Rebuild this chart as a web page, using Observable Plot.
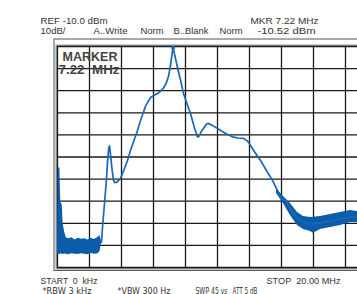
<!DOCTYPE html>
<html>
<head>
<meta charset="utf-8">
<script src="https://cdn.jsdelivr.net/npm/d3@7"></script>
<script src="https://cdn.jsdelivr.net/npm/@observablehq/plot@0.6"></script>
<style>
  html, body { margin: 0; padding: 0; background: #fff; overflow: hidden; width: 357px; height: 294px; }
  #chart { width: 400px; }
  #chart svg { display: block; max-width: none !important; width: 400px !important; height: 294px !important; }
</style>
</head>
<body>
<div id="chart"></div>
<script>
// ---- grid ticks (10 dB/div, 2 MHz/div) ----
const freqTicks = [0, 2, 4, 6, 8, 10, 12, 14, 16, 18, 20];
const levelTicks = [-110, -100, -90, -80, -70, -60, -50, -40, -30, -20, -10];

// ---- main trace (MHz, dBm) ----
const traceFreq = [2.75, 2.81, 2.95, 3.06, 3.13, 3.2, 3.25, 3.3, 3.4, 3.5, 3.56, 3.7, 3.94, 4.2, 4.375, 4.56, 5.0, 5.19, 5.5, 5.81, 6.1, 6.31, 6.5, 6.625, 6.8, 6.94, 7.05, 7.15, 7.22, 7.3, 7.5, 7.7, 7.875, 8.1, 8.31, 8.55, 8.75, 8.85, 9.0, 9.125, 9.3, 9.44, 9.7, 10.0, 10.3, 10.625, 11.0, 11.3, 11.625, 11.85, 12.0, 12.3, 12.69, 13.05, 13.44, 13.7, 13.94, 14.25, 14.56, 15.06, 15.625, 16.0, 16.5, 17.06, 17.7, 18.3, 18.75, 19.4, 20];
const traceLevel = [-98.5, -92, -80, -70, -62, -56, -55, -58, -65, -70.5, -71.5, -71.5, -69.7, -65, -61.6, -57.1, -48.0, -43.5, -37, -33.1, -31.8, -31.0, -29.8, -28.8, -26.5, -23.5, -19, -14, -10.52, -13, -19.5, -25.5, -31.3, -36, -40.3, -46.5, -51.0, -50.5, -48.3, -47.1, -45.2, -44.8, -45.8, -47.1, -48.5, -49.8, -51.0, -51.4, -51.6, -52.6, -54, -57.5, -61.6, -66, -70.6, -74.5, -78.3, -79.5, -83.8, -88.0, -90.3, -90.0, -89.7, -89.0, -88.0, -87.2, -87.1, -86.3, -85.8];

// ---- noise envelope near 0 Hz ----
const lowNoiseFreq = [0, 0.05, 0.15, 0.2, 0.3, 0.35, 0.45, 0.55, 0.7, 0.9, 1.1, 1.3, 1.5, 1.7, 1.9, 2.1, 2.3, 2.5, 2.65, 2.75];
const lowNoiseHigh = [-98, -65, -65, -80, -82, -90, -94, -96.5, -97, -96.5, -97.5, -96.8, -97.2, -97, -97.5, -96.8, -97.3, -96.5, -95.5, -98];
const lowNoiseLow = [-104, -104, -104.2, -103.8, -104, -104.1, -103.9, -104, -104.2, -103.8, -104, -104.1, -103.8, -104, -104.2, -103.5, -104, -103.9, -103, -99];

// ---- noise envelope of the upper frequency tail ----
const highNoiseFreq = [13.69, 14.125, 14.56, 15.0, 15.375, 15.81, 16.0, 16.44, 17.06, 17.69, 18.31, 18.75, 19.4, 20];
const highNoiseHigh = [-74.3, -77.9, -81.0, -85.1, -86.9, -87.4, -87.3, -86.9, -86.0, -85.1, -84.2, -84.7, -84.0, -83.5];
const highNoiseLow = [-76.5, -81.0, -86.5, -91.0, -92.8, -93.7, -94.5, -92.8, -91.9, -91.0, -89.6, -89.6, -89.0, -88.5];

// ---- marker ----
const markerFreq = [7.22];
const markerLevel = [-10.52];

// ---- annotation texts ----
const headerTop = ["REF -10.0 dBm", "MKR 7.22 MHz"];
const headerSecond = ["10dB/", "A..Write", "Norm", "B..Blank", "Norm", "-10.52 dBm"];
const footerTop = ["START  0  kHz", "STOP  20.00 MHz"];
const footerSecond = ["*RBW 3 kHz", "*VBW 300 Hz", "SWP 45 vs", "ATT 5 dB"];
const markerLabel = ["MARKER", "7.22  MHz"];

const trace = traceFreq.map((f, i) => ({f, db: traceLevel[i]}));
const lowNoise = lowNoiseFreq.map((f, i) => ({f, lo: lowNoiseLow[i], hi: lowNoiseHigh[i]}));
const highNoise = highNoiseFreq.map((f, i) => ({f, lo: highNoiseLow[i], hi: highNoiseHigh[i]}));
const marker = markerFreq.map((f, i) => ({f, db: markerLevel[i]}));

const ML = 57, MT = 46;
const font = "'Liberation Sans', Arial, sans-serif";
const narrow = "'Liberation Sans Narrow', 'DejaVu Sans Condensed', 'Liberation Sans', Arial, sans-serif";
const fitWidths = new Map();
function label(t, x, baseline, w, extra = {}) {
  fitWidths.set(t, w);
  return Plot.text([t], {
    text: d => d, frameAnchor: "top-left", textAnchor: "start", lineAnchor: "bottom",
    dx: x - ML, dy: baseline - MT, fill: "#333", fontSize: 9, ...extra
  });
}

const blue = "#1a68b6";
const chart = Plot.plot({
  width: 400, height: 294,
  marginLeft: ML, marginRight: 23, marginTop: MT, marginBottom: 27,
  x: {domain: [0, 20], axis: null},
  y: {domain: [-110, -10], axis: null},
  style: {background: "#fff", fontFamily: font, overflow: "visible", maxWidth: "none"},
  marks: [
    Plot.frame({stroke: "#555", strokeWidth: 1, insetLeft: -3.5, insetTop: -7.5, insetBottom: -3, insetRight: -4}),
    Plot.frame({stroke: "#999", strokeWidth: 2, insetTop: -1, insetBottom: -1, insetLeft: -1, insetRight: -1}),
    Plot.ruleX(freqTicks, {stroke: "#1a1a1a", strokeWidth: 1.3}),
    Plot.ruleY(levelTicks, {stroke: "#1a1a1a", strokeWidth: 1.3}),
    label(markerLabel[0], 62, 60, 55, {fontSize: 12, fontWeight: "bold", fill: "#444"}),
    label(markerLabel[1], 58, 73, 61, {fontSize: 12, fontWeight: "bold", fill: "#444"}),
    Plot.areaY(lowNoise, {x: "f", y1: "lo", y2: "hi", fill: "#0b5dac"}),
    Plot.areaY(highNoise, {x: "f", y1: "lo", y2: "hi", fill: "#0b5dac"}),
    Plot.line(trace, {x: "f", y: "db", stroke: blue, strokeWidth: 1.7}),
    Plot.dot(marker, {x: "f", y: "db", r: 2, fill: blue}),
    label(headerTop[0], 40, 23, 67),
    label(headerTop[1], 250, 23, 68),
    label(headerSecond[0], 40, 33, 25),
    label(headerSecond[1], 93, 33, 34),
    label(headerSecond[2], 140, 33, 23),
    label(headerSecond[3], 173, 33, 35),
    label(headerSecond[4], 219, 33, 23),
    label(headerSecond[5], 257, 33, 58),
    label(footerTop[0], 40, 283, 57),
    label(footerTop[1], 266, 283, 74),
    label(footerSecond[0], 42, 293, 49, {fontFamily: narrow}),
    label(footerSecond[1], 117, 293, 53, {fontFamily: narrow}),
    label(footerSecond[2], 195, 293, 32, {fontFamily: narrow, fontSize: 8.5}),
    label(footerSecond[3], 232, 293, 25, {fontFamily: narrow, fontSize: 8.5})
  ]
});
d3.select(chart).selectAll("text").each(function() {
  const w = fitWidths.get(this.textContent);
  if (w) {
    this.setAttribute("textLength", w);
    this.setAttribute("lengthAdjust", "spacingAndGlyphs");
  }
});
document.getElementById("chart").appendChild(chart);
</script>
</body>
</html>
